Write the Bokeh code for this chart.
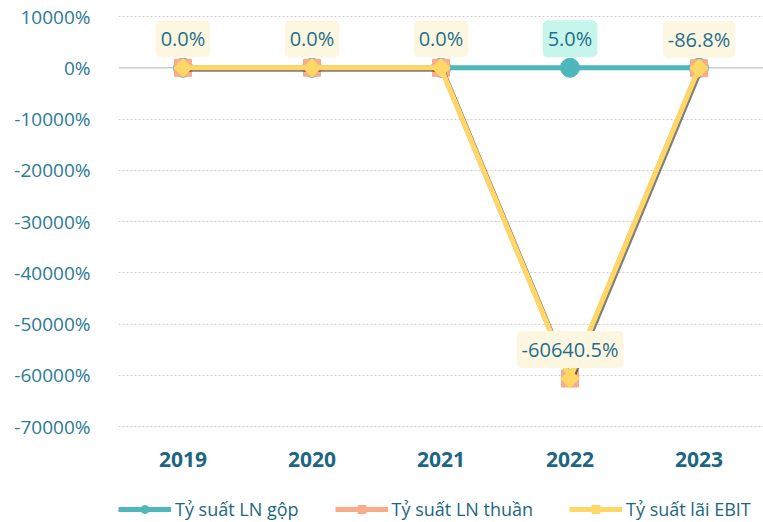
from bokeh.plotting import figure
from bokeh.layouts import column
from bokeh.models import (ColumnDataSource, Legend, LegendItem, Range1d,
                          FactorRange, FixedTicker, PrintfTickFormatter, Span)
from bokeh.core.properties import value
from bokeh.embed import file_html
from bokeh.resources import INLINE
import math

years = ["2019", "2020", "2021", "2022", "2023"]
gop = [0.0, 0.0, 0.0, 5.0, 0.0]
thuan = [0.0, 0.0, 0.0, -60640.5, -86.8]
ebit = [0.0, 0.0, 0.0, -60640.5, -86.8]
y_ticks = [10000, 0, -10000, -20000, -30000, -40000, -50000, -60000, -70000]
names = ["Tỷ suất LN gộp", "Tỷ suất LN thuần", "Tỷ suất lãi EBIT"]

TEAL = "#4db7bc"
SALMON = "#f8ad8a"
YELLOW = "#fed766"
TXT = "#1f6f8c"
FONT = "Open Sans"

p = figure(x_range=FactorRange(*years, range_padding=0), y_range=Range1d(-70780, 13122),
           frame_width=645, frame_height=430, min_border_left=118, min_border_right=0,
           min_border_top=0, min_border_bottom=62,
           output_backend="svg", toolbar_location=None)
p.outline_line_color = None
p.background_fill_color = "white"

p.xgrid.grid_line_color = None
p.ygrid.grid_line_color = "#cfcfcf"
p.ygrid.grid_line_dash = "2 2"
p.ygrid.ticker = FixedTicker(ticks=y_ticks)
p.add_layout(Span(location=0, dimension="width", line_color="#cccccc", line_width=1.5,
                  level="underlay"))

p.yaxis.ticker = FixedTicker(ticks=y_ticks)
p.yaxis.formatter = PrintfTickFormatter(format="%d%%")
p.yaxis.axis_line_color = None
p.yaxis.major_tick_line_color = None
p.yaxis.minor_tick_line_color = None
p.yaxis.major_label_text_font = FONT
p.yaxis.major_label_text_font_size = "19px"
p.yaxis.major_label_text_color = "#2b7a96"
p.yaxis.major_label_standoff = 22

p.xaxis.axis_line_color = None
p.xaxis.major_tick_line_color = None
p.xaxis.major_tick_out = 0
p.xaxis.major_label_text_font = FONT
p.xaxis.major_label_text_font_size = "21px"
p.xaxis.major_label_text_font_style = "bold"
p.xaxis.major_label_text_color = "#1d6682"
p.xaxis.major_label_standoff = 21

src = ColumnDataSource(dict(x=years, gop=gop, thuan=thuan, ebit=ebit,
                            shx=[(y, 0.015) for y in years],
                            shy=[v - 400 for v in ebit]))


def draw(fig, big=True):
    k = 1.0 if big else 0.62
    r1 = [fig.line("x", "gop", source=src, line_color=TEAL, line_width=5),
          fig.scatter("x", "gop", source=src, marker="circle", size=19 * k,
                      fill_color=TEAL, line_color=TEAL)]
    r2 = [fig.line("x", "thuan", source=src, line_color=SALMON, line_width=5),
          fig.scatter("x", "thuan", source=src, marker="square", size=17 * k,
                      fill_color=SALMON, line_color=SALMON)]
    if big:
        fig.line("shx", "shy", source=src, line_color="black", line_alpha=0.5, line_width=4)
    r3 = [fig.line("x", "ebit", source=src, line_color=YELLOW, line_width=5),
          fig.scatter("x", "ebit", source=src, marker="square", angle=math.pi / 4, size=13 * k,
                      fill_color=YELLOW, line_color=YELLOW)]
    return r1, r2, r3


draw(p)

# labels
lab_e = ColumnDataSource(dict(x=years, y=ebit, t=[f"{v:.1f}%" for v in ebit]))
p.text(x="x", y="y", text="t", source=lab_e, y_offset=-29,
       text_align="center", text_baseline="middle",
       text_font=value(FONT), text_font_size="20px", text_color=TXT,
       background_fill_color="#fdf7e1", border_radius=5, padding=5)
gi = [3]
lab_g = ColumnDataSource(dict(x=[years[i] for i in gi], y=[gop[i] for i in gi],
                              t=[f"{gop[i]:.1f}%" for i in gi]))
p.text(x="x", y="y", text="t", source=lab_g, y_offset=-29,
       text_align="center", text_baseline="middle",
       text_font=value(FONT), text_font_size="20px", text_color=TXT,
       background_fill_color="#c6f6eb", border_radius=5, padding=5)

# legend strip (same series, plotted outside its visible range)
q = figure(width=763, height=30, x_range=FactorRange(*years), y_range=Range1d(1e6, 2e6),
           min_border=0, output_backend="svg", toolbar_location=None)
q.axis.visible = False
q.grid.visible = False
q.outline_line_color = None
r1, r2, r3 = draw(q, big=False)
legend = Legend(items=[LegendItem(label=names[0], renderers=r1),
                       LegendItem(label=names[1], renderers=r2),
                       LegendItem(label=names[2], renderers=r3)],
                orientation="horizontal", location=(0, 1),
                glyph_width=53, glyph_height=20, label_standoff=4, spacing=36,
                label_text_font=FONT, label_text_font_size="18px", label_text_color="#1d6682",
                border_line_color=None, background_fill_alpha=0, margin=0, padding=0)
q.add_layout(legend, "center")

open("out.html", "w").write(file_html(column(p, q, spacing=0), INLINE))
